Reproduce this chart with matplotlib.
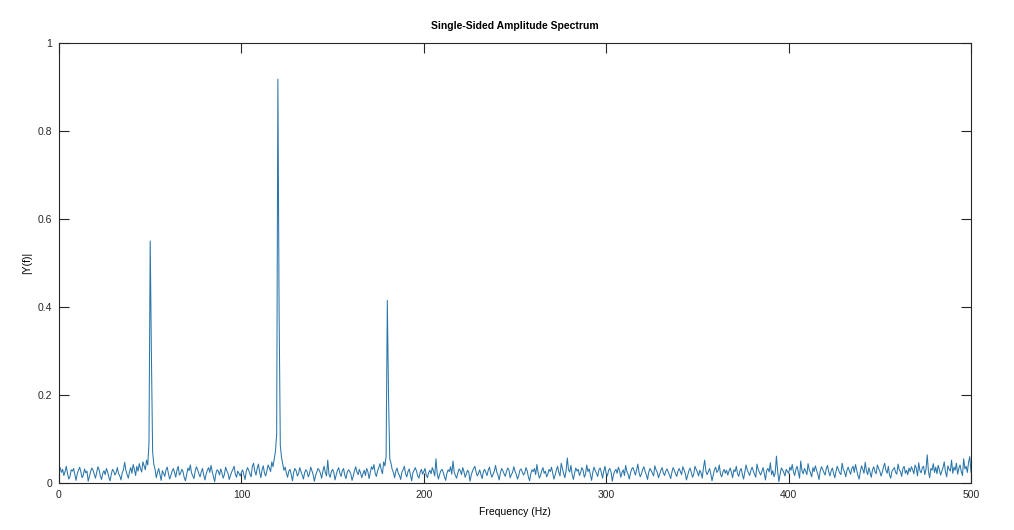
import numpy as np
import matplotlib.pyplot as plt

# Single-sided amplitude spectrum, values in thousandths, bins of 2/3 Hz (Fs=1000, L=1500)
Fs = 1000
L = 1500

amp_000 = [28, 35, 24, 31, 17, 26, 38, 22, 9, 14, 30, 27, 33, 19, 6, 21, 29, 36, 25, 12,
           18, 32, 23, 27, 4, 15, 26, 34, 29, 20, 11, 24, 37, 30, 16, 8, 22, 28, 19, 33,
           25, 13, 5, 20, 31, 27, 18, 24, 35, 21]
amp_050 = [16, 7, 23, 30, 47, 29, 19, 11, 26, 35, 22, 42, 31, 17, 38, 27, 44, 33, 25, 48,
           39, 30, 52, 41, 90, 550, 290, 70, 42, 31, 12, 24, 33, 19, 6, 28, 22, 15, 30, 36,
           21, 9, 17, 27, 33, 24, 13, 29, 38, 18]
amp_100 = [22, 31, 26, 12, 5, 19, 34, 28, 41, 23, 16, 10, 27, 37, 30, 21, 14, 25, 33, 18,
           7, 20, 29, 35, 24, 40, 26, 15, 3, 21, 30, 27, 18, 32, 23, 11, 19, 36, 28, 22,
           8, 17, 25, 31, 38, 20, 13, 27, 22, 16]
amp_150 = [24, 30, 19, 8, 26, 35, 29, 21, 14, 38, 45, 27, 18, 33, 43, 25, 12, 30, 39, 22,
           16, 28, 41, 34, 26, 48, 37, 55, 72, 110, 918, 390, 85, 58, 44, 29, 36, 22, 13, 27,
           31, 19, 5, 24, 33, 28, 16, 21, 35, 26]
amp_200 = [18, 9, 23, 30, 26, 14, 21, 36, 28, 19, 4, 17, 25, 33, 29, 22, 11, 27, 38, 24,
           16, 52, 20, 13, 26, 31, 24, 7, 19, 29, 35, 22, 15, 28, 33, 18, 10, 24, 30, 27,
           20, 6, 16, 28, 37, 25, 19, 31, 23, 12]
amp_250 = [21, 29, 17, 33, 26, 10, 24, 37, 31, 42, 22, 15, 28, 35, 44, 30, 21, 48, 39, 60,
           415, 195, 55, 45, 31, 24, 12, 27, 34, 22, 17, 8, 25, 30, 38, 21, 14, 26, 32, 19,
           5, 23, 29, 35, 27, 16, 11, 24, 31, 20]
amp_300 = [26, 33, 18, 12, 24, 29, 21, 35, 27, 16, 55, 22, 9, 19, 28, 31, 24, 14, 6, 22,
           30, 26, 37, 20, 50, 25, 17, 11, 23, 32, 28, 19, 35, 26, 13, 21, 29, 24, 4, 18,
           27, 33, 38, 25, 16, 22, 30, 19, 10, 26]
amp_350 = [31, 24, 17, 29, 36, 22, 13, 20, 27, 40, 25, 18, 7, 23, 33, 28, 21, 15, 26, 34,
           30, 12, 19, 24, 37, 27, 20, 9, 16, 29, 32, 25, 18, 23, 35, 28, 14, 5, 21, 30,
           26, 33, 19, 42, 24, 11, 17, 28, 35, 22]
amp_400 = [27, 14, 20, 31, 26, 36, 23, 9, 18, 29, 38, 24, 16, 45, 33, 21, 12, 28, 57, 30,
           25, 40, 19, 8, 22, 34, 27, 31, 17, 24, 35, 29, 13, 20, 41, 26, 32, 18, 6, 25,
           36, 28, 22, 15, 30, 34, 24, 11, 27, 38]
amp_450 = [21, 16, 29, 33, 25, 4, 19, 27, 31, 22, 36, 28, 13, 24, 30, 17, 40, 26, 20, 9,
           23, 32, 35, 27, 18, 29, 43, 24, 14, 21, 31, 37, 26, 19, 8, 25, 33, 28, 22, 16,
           39, 30, 24, 12, 20, 29, 35, 23, 17, 27]
amp_500 = [32, 25, 18, 10, 24, 35, 29, 21, 15, 27, 33, 26, 19, 37, 30, 22, 7, 18, 28, 34,
           24, 13, 20, 38, 31, 25, 16, 29, 23, 11, 35, 52, 27, 19, 26, 33, 21, 5, 17, 30,
           36, 24, 28, 41, 20, 14, 25, 31, 22, 29]
amp_550 = [18, 27, 34, 24, 12, 30, 26, 38, 21, 15, 28, 33, 19, 9, 25, 41, 30, 23, 17, 29,
           36, 27, 20, 13, 43, 31, 24, 18, 26, 35, 22, 7, 29, 33, 25, 46, 19, 28, 14, 23,
           61, 27, 3, 20, 34, 30, 24, 16, 31, 26]
amp_600 = [22, 36, 29, 42, 25, 17, 31, 38, 24, 11, 50, 28, 21, 33, 27, 19, 44, 30, 23, 14,
           35, 26, 39, 29, 20, 8, 27, 37, 31, 24, 18, 33, 40, 25, 16, 28, 34, 22, 12, 26,
           38, 30, 23, 19, 45, 31, 25, 14, 29, 36]
amp_650 = [27, 20, 33, 38, 24, 42, 29, 17, 9, 26, 39, 31, 22, 47, 28, 19, 35, 24, 13, 30,
           37, 26, 21, 41, 33, 27, 16, 24, 36, 45, 29, 22, 38, 18, 11, 27, 31, 35, 24, 20,
           43, 30, 26, 15, 33, 38, 22, 29, 19, 34]
amp_700 = [26, 37, 30, 21, 41, 34, 16, 46, 28, 23, 35, 38, 19, 31, 64, 26, 12, 33, 29, 44,
           24, 36, 21, 40, 30, 18, 27, 35, 48, 25, 14, 39, 31, 27, 52, 22, 36, 29, 45, 20,
           33, 41, 26, 17, 55, 32, 38, 24, 47, 60]
amp_750 = [24]

segments = [amp_000, amp_050, amp_100, amp_150, amp_200, amp_250, amp_300, amp_350,
            amp_400, amp_450, amp_500, amp_550, amp_600, amp_650, amp_700, amp_750]

P1 = np.concatenate([np.array(s, dtype=float) for s in segments]) / 1000.0
f = Fs * np.arange(len(P1)) / L

plt.rcParams['font.family'] = ['Liberation Sans', 'DejaVu Sans']

fig = plt.figure(figsize=(10.14, 5.30), dpi=100)
ax = fig.add_axes([59/1014, 47/530, 912/1014, 440/530])

ax.plot(f, P1, color='#2a76aa', lw=0.75)

ax.set_xlim(0, 500)
ax.set_ylim(0, 1)
ax.set_xticks([0, 100, 200, 300, 400, 500])
ax.set_yticks([0, 0.2, 0.4, 0.6, 0.8, 1])
ax.set_yticklabels(['0', '0.2', '0.4', '0.6', '0.8', '1'])
ax.tick_params(direction='in', length=7, width=0.8, top=True, right=True,
               labelsize=7.5, colors='#262626', pad=5)
for s in ax.spines.values():
    s.set_color('#262626')
    s.set_linewidth(0.8)

ax.set_title('Single-Sided Amplitude Spectrum', fontsize=7.5, fontweight='bold', pad=10)
ax.set_xlabel('Frequency (Hz)', fontsize=7.5, labelpad=5)
ax.set_ylabel('|Y(f)|', fontsize=7.5, labelpad=4)

fig.savefig('out.png', dpi=100)
